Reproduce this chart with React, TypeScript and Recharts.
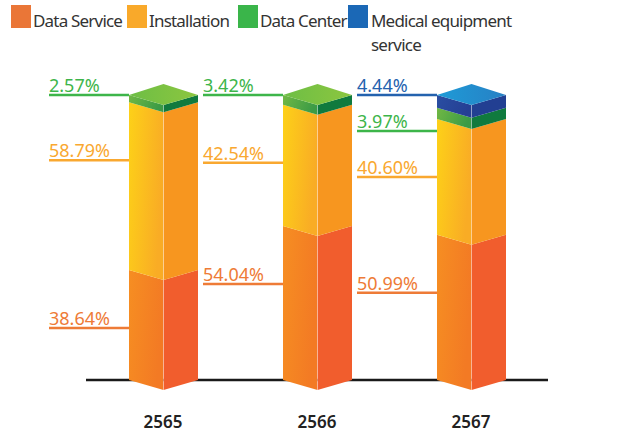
import React from 'react';
import { BarChart, Bar, XAxis, YAxis } from 'recharts';

const years = ['2565', '2566', '2567'];
const dataService = [38.64, 54.04, 50.99];
const installation = [58.79, 42.54, 40.6];
const dataCenter = [2.57, 3.42, 3.97];
const medical: (number | null)[] = [null, null, 4.44];

const seriesKeys = ['dataService', 'installation', 'dataCenter', 'medical'];
const seriesNames = ['Data Service', 'Installation', 'Data Center', 'Medical equipment service'];
const legendColors = ['#EA7637', '#F9A92A', '#3AB54A', '#1B68B6'];
const labelColors = ['#EE7B37', '#F9A830', '#3DB54A', '#2462AE'];
const leftFace = [
  ['#F68E22', '#F37A24'],
  ['#FDD118', '#F9AC25'],
  ['#71B844', '#3B9B46'],
  ['#2A4EA2', '#253F94'],
];
const rightFace = ['#F15D2D', '#F7961F', '#107A3E', '#223F92'];
const topFace = [
  ['#F9A04A', '#F58A30'],
  ['#FDD84A', '#F9B93A'],
  ['#6DBE45', '#8CC63F'],
  ['#1E9BD7', '#2780C4'],
];

const data = years.map((year, i) => ({
  year,
  dataService: dataService[i],
  installation: installation[i],
  dataCenter: dataCenter[i],
  medical: medical[i],
}));

const FONT = '"Noto Sans", sans-serif';
const V = 10;
const VT = 11;

function labelYs(payload: any, topSide: number, ppv: number) {
  const res: (number | null)[] = [null, null, null, null];
  let cum = 0;
  let prev = -Infinity;
  let first = true;
  for (let i = seriesKeys.length - 1; i >= 0; i--) {
    const v = payload[seriesKeys[i]];
    if (v == null) continue;
    const segTop = topSide + cum * ppv;
    let ly: number;
    if (first) {
      ly = topSide - 3;
      first = false;
    } else {
      const mid = segTop + (v * ppv) / 2;
      ly = Math.min(mid, segTop + 55);
      ly = Math.max(ly, prev + 36);
    }
    res[i] = ly;
    prev = ly;
    cum += v;
  }
  return res;
}

const makeShape = (si: number) => (props: any) => {
  const { x, y, width, height, payload } = props;
  const val = payload[seriesKeys[si]];
  if (val == null || !height || height <= 0) return null;
  const cx = x + width / 2;
  const yT = y;
  const yB = y + height;
  const ppv = height / val;
  let above = 0;
  for (let k = si + 1; k < seriesKeys.length; k++) above += payload[seriesKeys[k]] ?? 0;
  const isTop = above === 0;
  const topSide = yT - above * ppv;
  const ly = labelYs(payload, topSide, ppv)[si] as number;
  const lx = x - 80;
  return (
    <g>
      <polygon
        points={`${x},${yT} ${cx},${yT + V} ${cx},${yB + V} ${x},${yB}`}
        fill={`url(#lf${si})`}
      />
      <polygon
        points={`${cx},${yT + V} ${x + width},${yT} ${x + width},${yB} ${cx},${yB + V}`}
        fill={rightFace[si]}
      />
      <line x1={cx} y1={yT + V} x2={cx} y2={yB + V} stroke="#ffffff" strokeOpacity={0.35} strokeWidth={1} />
      {isTop && (
        <polygon
          points={`${x},${yT} ${cx},${yT - VT} ${x + width},${yT} ${cx},${yT + V}`}
          fill={`url(#tf${si})`}
        />
      )}
      <line x1={lx} y1={ly + 3} x2={x} y2={ly + 3} stroke={labelColors[si]} strokeWidth={2.5} />
      <text x={lx} y={ly} fill={labelColors[si]} fontSize={18} fontFamily={FONT}>
        {`${val.toFixed(2)}%`}
      </text>
    </g>
  );
};

const shapes = seriesKeys.map((_, i) => makeShape(i));

const YearTick = (props: any) => {
  const { x, y, payload } = props;
  return (
    <text x={x} y={y + 46} textAnchor="middle" fill="#222" fontSize={17} fontFamily={FONT} fontWeight={600}>
      {payload.value}
    </text>
  );
};

const legendPos = [
  { sq: 11, tx: 33 },
  { sq: 127, tx: 149 },
  { sq: 238, tx: 260 },
  { sq: 348, tx: 371 },
];

export default function App() {
  return (
    <div style={{ position: 'absolute', left: 0, top: 0, width: 627, height: 432, background: '#fff' }}>
      <BarChart
        width={627}
        height={432}
        data={data}
        margin={{ top: 95, right: 79, bottom: 22, left: 86 }}
        barSize={69}
      >
        <defs>
          {leftFace.map((c, i) => (
            <linearGradient key={`lf${i}`} id={`lf${i}`} x1="0" y1="0" x2="1" y2="0.3">
              <stop offset="0%" stopColor={c[0]} />
              <stop offset="100%" stopColor={c[1]} />
            </linearGradient>
          ))}
          {topFace.map((c, i) => (
            <linearGradient key={`tf${i}`} id={`tf${i}`} x1="0" y1="0" x2="1" y2="0">
              <stop offset="0%" stopColor={c[0]} />
              <stop offset="100%" stopColor={c[1]} />
            </linearGradient>
          ))}
        </defs>
        <XAxis
          dataKey="year"
          axisLine={{ stroke: '#1a1a1a', strokeWidth: 2.5 }}
          tickLine={false}
          tickSize={0}
          tick={<YearTick />}
          interval={0}
          zIndex={100}
        />
        <YAxis hide domain={[0, 100]} />
        {seriesKeys.map((k, i) => (
          <Bar
            key={k}
            dataKey={k}
            name={seriesNames[i]}
            stackId="a"
            fill={legendColors[i]}
            shape={shapes[i]}
            isAnimationActive={false}
            zIndex={700}
          />
        ))}
      </BarChart>
      {seriesNames.map((n, i) => (
        <div key={n}>
          <div
            style={{
              position: 'absolute',
              left: legendPos[i].sq,
              top: 5,
              width: 20,
              height: 23,
              background: legendColors[i],
            }}
          />
          <div
            style={{
              position: 'absolute',
              left: legendPos[i].tx,
              top: 9,
              width: i === 3 ? 170 : 'auto',
              fontFamily: FONT,
              fontSize: 17,
              letterSpacing: -0.8,
              lineHeight: '24px',
              color: '#333',
              whiteSpace: i === 3 ? 'normal' : 'nowrap',
            }}
          >
            {n}
          </div>
        </div>
      ))}
    </div>
  );
}
